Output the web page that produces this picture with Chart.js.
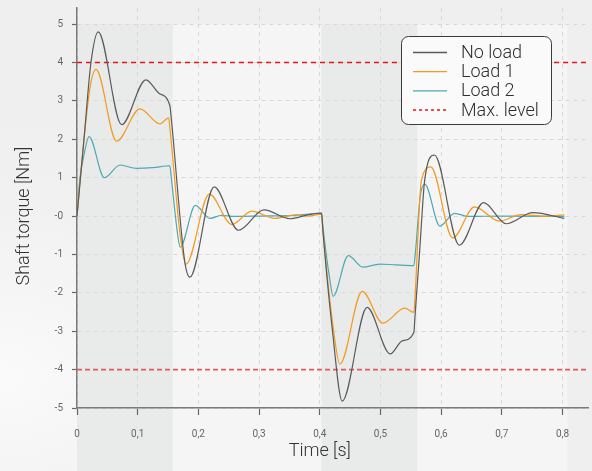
<!DOCTYPE html>
<html><head><meta charset="utf-8">
<script src="https://cdn.jsdelivr.net/npm/chart.js@4"></script>
<style>
html,body{margin:0;padding:0;}
body{width:592px;height:471px;overflow:hidden;background:radial-gradient(ellipse 70% 60% at 0% 80%, #fafafa 0%, #f1f1f1 60%, #efefef 100%);}
#wrap{position:relative;width:592px;height:471px;}
canvas{display:block;}
</style></head><body>
<div id="wrap"><canvas id="c" width="592" height="471"></canvas></div>
<script>
// ---- data ----
const xTicks = [0, 0.1, 0.2, 0.3, 0.4, 0.5, 0.6, 0.7, 0.8];
const yTicks = [5, 4, 3, 2, 1, 0, -1, -2, -3, -4, -5];
const maxLevel = 4;
const bandEdges = [0, 0.158, 0.403, 0.561, 0.808]; // alternating shaded time windows

const noLoadT = [0, 0.0115, 0.023, 0.035, 0.0735, 0.1136, 0.135, 0.153, 0.155, 0.1775, 0.186, 0.226, 0.266, 0.308, 0.351, 0.38, 0.403, 0.405, 0.421, 0.437, 0.478, 0.516, 0.536, 0.555, 0.557, 0.5646, 0.573, 0.589, 0.630, 0.670, 0.707, 0.751, 0.803];
const noLoadV = [0, 2.0, 4.0, 4.80, 2.38, 3.55, 3.2, 2.88, 2.6, -1.18, -1.59, 0.76, -0.37, 0.16, -0.07, 0.03, 0.08, -0.35, -3.0, -4.82, -2.38, -3.59, -3.25, -3.03, -2.6, -0.92, 0.95, 1.59, -0.76, 0.35, -0.20, 0.09, -0.06];

const load1T = [0, 0.0115, 0.022, 0.0313, 0.0653, 0.1037, 0.1366, 0.151, 0.153, 0.170, 0.1794, 0.218, 0.255, 0.288, 0.326, 0.36, 0.38, 0.403, 0.405, 0.423, 0.433, 0.470, 0.504, 0.540, 0.555, 0.557, 0.5674, 0.583, 0.619, 0.655, 0.696, 0.732, 0.77, 0.803];
const load1V = [0, 2.0, 3.4, 3.82, 1.95, 2.79, 2.40, 2.56, 2.3, -0.5, -1.26, 0.57, -0.22, 0.13, -0.06, 0.03, 0.0, 0.05, -0.35, -3.0, -3.86, -1.96, -2.79, -2.40, -2.51, -2.1, 0.92, 1.28, -0.57, 0.24, -0.13, 0.04, 0.0, 0.03];

const load2T = [0, 0.005, 0.0104, 0.0198, 0.045, 0.071, 0.098, 0.125, 0.153, 0.155, 0.166, 0.170, 0.195, 0.219, 0.238, 0.26, 0.30, 0.36, 0.403, 0.405, 0.417, 0.422, 0.447, 0.471, 0.499, 0.525, 0.555, 0.557, 0.5655, 0.573, 0.598, 0.622, 0.645, 0.70, 0.803];
const load2V = [0, 1.0, 1.5, 2.07, 1.00, 1.33, 1.24, 1.26, 1.31, 1.05, -0.5, -0.81, 0.28, -0.06, 0.02, -0.01, 0.0, 0.02, 0.07, -0.25, -1.7, -2.09, -1.03, -1.33, -1.25, -1.27, -1.29, -1.05, 0.5, 0.83, -0.26, 0.07, -0.01, 0.0, -0.01];

const X_MIN = 0, X_MAX = 0.842, Y_MIN = -5, Y_MAX = 5.42;

const pts = (t, v) => t.map((x, i) => ({x, y: v[i]}));
const FONT = 'Roboto, "Liberation Sans", sans-serif';

const bandPlugin = {
  id: 'bands',
  beforeDraw(chart) {
    const {ctx} = chart, xs = chart.scales.x, ys = chart.scales.y;
    const top = ys.getPixelForValue(yTicks[0]);
    ctx.save();
    for (let i = 0; i < bandEdges.length - 1; i++) {
      const x1 = xs.getPixelForValue(bandEdges[i]), x2 = xs.getPixelForValue(bandEdges[i + 1]);
      ctx.fillStyle = i % 2 === 0 ? '#e9ebea' : '#f6f5f6';
      ctx.fillRect(x1, top, x2 - x1, chart.height - top);
    }
    ctx.restore();
  }
};

const titlePlugin = {
  id: 'titles',
  afterDraw(chart) {
    const {ctx} = chart, xs = chart.scales.x, ys = chart.scales.y;
    ctx.save();
    ctx.fillStyle = '#333';
    ctx.font = '300 18px ' + FONT;
    ctx.textAlign = 'center';
    ctx.textBaseline = 'middle';
    ctx.fillText('Time [s]', xs.getPixelForValue(0.4), 451);
    ctx.translate(24.5, ys.getPixelForValue(0));
    ctx.rotate(-Math.PI / 2);
    ctx.fillText('Shaft torque [Nm]', 0, 0);
    ctx.restore();
  }
};

const legendPlugin = {
  id: 'boxLegend',
  afterDraw(chart) {
    const {ctx} = chart;
    const bx = 401.5, by = 36.5, bw = 150, bh = 88, r = 7;
    ctx.save();
    ctx.beginPath();
    ctx.roundRect(bx, by, bw, bh, r);
    ctx.fillStyle = '#fafafa';
    ctx.fill();
    ctx.lineWidth = 1;
    ctx.strokeStyle = '#3a3a3a';
    ctx.stroke();
    const items = chart.data.datasets.filter(d => d.inLegend);
    items.forEach((d, i) => {
      const y = 52.5 + i * 19.2;
      ctx.beginPath();
      ctx.setLineDash(d.legendDash || []);
      ctx.strokeStyle = d.borderColor;
      ctx.lineWidth = d.legendDash ? 1.5 : 1.3;
      ctx.moveTo(413, y); ctx.lineTo(447, y);
      ctx.stroke();
      ctx.setLineDash([]);
      ctx.fillStyle = '#2e2e2e';
      ctx.font = '300 18px ' + FONT;
      ctx.textAlign = 'left';
      ctx.textBaseline = 'middle';
      ctx.fillText(d.label, 461, y + 1);
    });
    ctx.restore();
  }
};

const lineDs = (label, t, v, color) => ({
  label, data: pts(t, v), borderColor: color, borderWidth: 1.2,
  pointRadius: 0, cubicInterpolationMode: 'monotone', fill: false, inLegend: true
});

const zeroPad = s => { s.paddingTop = 0; s.paddingBottom = 0; s.paddingLeft = 0; s.paddingRight = 0; };

new Chart(document.getElementById('c'), {
  type: 'line',
  data: {
    datasets: [
      lineDs('No load', noLoadT, noLoadV, '#5a5a5a'),
      lineDs('Load 1', load1T, load1V, '#f39a1e'),
      lineDs('Load 2', load2T, load2V, '#4fa8b2'),
      {label: 'Max. level', data: [{x: X_MIN, y: maxLevel}, {x: X_MAX, y: maxLevel}],
       borderColor: '#e8141a', borderWidth: 1.4, borderDash: [5, 4], pointRadius: 0,
       inLegend: true, legendDash: [3, 3]},
      {label: 'Min. level', data: [{x: X_MIN, y: -maxLevel}, {x: X_MAX, y: -maxLevel}],
       borderColor: '#e25a5a', borderWidth: 1.6, borderDash: [5, 3], pointRadius: 0}
    ]
  },
  options: {
    responsive: false, animation: false, devicePixelRatio: 1,
    layout: {padding: {top: 8, right: 4, left: 0, bottom: 0}},
    plugins: {legend: {display: false}, tooltip: {enabled: false}},
    scales: {
      x: {
        type: 'linear', min: X_MIN, max: X_MAX,
        afterBuildTicks: s => { s.ticks = xTicks.map(v => ({value: v})); },
        afterFit: s => { s.height = 63; zeroPad(s); },
        ticks: {
          color: '#666', font: {family: FONT, size: 10}, padding: 13, maxRotation: 0, autoSkip: false,
          callback: v => v === 0 ? '0' : v.toFixed(1).replace('.', ',')
        },
        grid: {color: '#d8d8d8', lineWidth: 1, tickLength: 7, tickColor: '#666', tickWidth: 1.2},
        border: {display: true, color: '#7a7a7a', width: 1.5, dash: [4, 4]}
      },
      y: {
        type: 'linear', min: Y_MIN, max: Y_MAX,
        afterBuildTicks: s => { s.ticks = yTicks.map(v => ({value: v})); },
        afterFit: s => { s.width = 77; zeroPad(s); },
        ticks: {
          color: '#666', font: {family: FONT, size: 10}, padding: 9, autoSkip: false,
          callback: v => v === 0 ? '-0' : String(v)
        },
        grid: {color: '#d8d8d8', lineWidth: 1, tickLength: 5, tickColor: '#666', tickWidth: 1.2},
        border: {display: true, color: '#7a7a7a', width: 1.5, dash: [4, 4]}
      }
    }
  },
  plugins: [bandPlugin, legendPlugin, titlePlugin]
});
</script>
</body></html>
